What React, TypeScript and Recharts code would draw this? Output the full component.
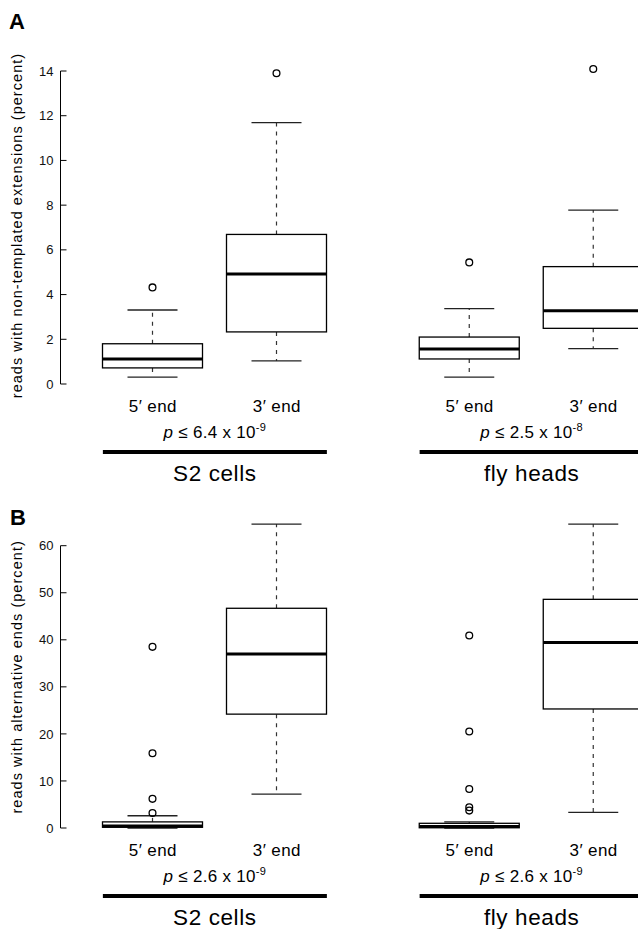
import React from 'react';
import { ComposedChart, Bar, XAxis, YAxis } from 'recharts';

const FONT = '"Liberation Sans", Arial, Helvetica, sans-serif';

// Categories
const groupNames = ['S2 cells', 'fly heads'];
const endLabels = ['5′ end', '3′ end'];

// Panel A — reads with non-templated extensions: [lower whisker, Q1, median, Q3, upper whisker]
const extS2Five = [0.31, 0.72, 1.12, 1.8, 3.31];
const extS2Three = [1.03, 2.33, 4.92, 6.69, 11.69];
const extFlyFive = [0.31, 1.12, 1.57, 2.1, 3.37];
const extFlyThree = [1.58, 2.49, 3.28, 5.25, 7.78];
const extOutS2Five = [4.32];
const extOutS2Three = [13.9];
const extOutFlyFive = [5.44];
const extOutFlyThree = [14.09];
const extPMantissa = ['6.4', '2.5'];
const extPExponent = ['-9', '-8'];
const extTicks = [0, 2, 4, 6, 8, 10, 12, 14];

// Panel B — reads with alternative ends
const altS2Five = [0.0, 0.15, 0.4, 1.3, 2.6];
const altS2Three = [7.2, 24.2, 37.0, 46.7, 64.6];
const altFlyFive = [0.0, 0.05, 0.3, 1.0, 1.3];
const altFlyThree = [3.3, 25.3, 39.4, 48.6, 64.6];
const altOutS2Five = [38.5, 15.9, 6.2, 3.2];
const altOutS2Three: number[] = [];
const altOutFlyFive = [40.9, 20.5, 8.3, 4.4, 3.7];
const altOutFlyThree: number[] = [];
const altPMantissa = ['2.6', '2.6'];
const altPExponent = ['-9', '-9'];
const altTicks = [0, 10, 20, 30, 40, 50, 60];

const extRows = groupNames.map((g, i) => ({
  group: g,
  five: [extS2Five, extFlyFive][i],
  three: [extS2Three, extFlyThree][i],
  fiveOut: [extOutS2Five, extOutFlyFive][i],
  threeOut: [extOutS2Three, extOutFlyThree][i],
  pm: extPMantissa[i],
  pe: extPExponent[i],
}));

const altRows = groupNames.map((g, i) => ({
  group: g,
  five: [altS2Five, altFlyFive][i],
  three: [altS2Three, altFlyThree][i],
  fiveOut: [altOutS2Five, altOutFlyFive][i],
  threeOut: [altOutS2Three, altOutFlyThree][i],
  pm: altPMantissa[i],
  pe: altPExponent[i],
}));

const BAR_SIZE = 100;
const BAR_GAP = 24;
const HALF_STEP = (BAR_SIZE + BAR_GAP) / 2;
const HALF_SPAN = BAR_SIZE + BAR_GAP / 2;

function BoxShape(props: any) {
  const { x, y, width, height, stats, outliers } = props;
  const [lo, q1, med, q3, hi] = stats as number[];
  const k = height / (q3 - q1);
  const py = (v: number) => y + (q3 - v) * k;
  const cx = x + width / 2;
  const cap = width / 4;
  return (
    <g>
      <line x1={cx} x2={cx} y1={py(q3)} y2={py(hi)} stroke="#333" strokeWidth={1.2} strokeDasharray="4 5" />
      <line x1={cx} x2={cx} y1={py(q1)} y2={py(lo)} stroke="#333" strokeWidth={1.2} strokeDasharray="4 5" />
      <line x1={cx - cap} x2={cx + cap} y1={py(hi)} y2={py(hi)} stroke="#222" strokeWidth={1.3} />
      <line x1={cx - cap} x2={cx + cap} y1={py(lo)} y2={py(lo)} stroke="#222" strokeWidth={1.3} />
      <rect x={x} y={py(q3)} width={width} height={py(q1) - py(q3)} fill="#fff" stroke="#000" strokeWidth={1.3} />
      <line x1={x} x2={x + width} y1={py(med)} y2={py(med)} stroke="#000" strokeWidth={3} />
      {(outliers as number[]).map((v, i) => (
        <circle key={i} cx={cx} cy={py(v)} r={3.4} fill="none" stroke="#000" strokeWidth={1.3} />
      ))}
    </g>
  );
}

function GroupTick(props: any) {
  const { x, y, payload, rows } = props;
  const row = rows.find((r: any) => r.group === payload.value);
  return (
    <g fontFamily={FONT} fill="#000">
      <text x={x - HALF_STEP} y={y + 27.5} textAnchor="middle" fontSize={17} letterSpacing={0.4}>
        {endLabels[0]}
      </text>
      <text x={x + HALF_STEP} y={y + 27.5} textAnchor="middle" fontSize={17} letterSpacing={0.4}>
        {endLabels[1]}
      </text>
      <text x={x} y={y + 54} textAnchor="middle" fontSize={17} letterSpacing={0.3}>
        <tspan fontStyle="italic">p</tspan>
        <tspan>{` ≤ ${row ? row.pm : ''} x 10`}</tspan>
        <tspan dy={-7} fontSize={11}>{row ? row.pe : ''}</tspan>
      </text>
      <line x1={x - HALF_SPAN} x2={x + HALF_SPAN} y1={y + 68} y2={y + 68} stroke="#000" strokeWidth={4} />
      <text x={x} y={y + 96.5} textAnchor="middle" fontSize={22.5} letterSpacing={0.6}>
        {payload.value}
      </text>
    </g>
  );
}

function yLabel(text: string, shift: number) {
  return (props: any) => {
    const vb = props.viewBox || {};
    const lx = vb.x + 22;
    const ly = vb.y + vb.height / 2 + shift;
    return (
      <text
        x={lx}
        y={ly}
        transform={`rotate(-90, ${lx}, ${ly})`}
        textAnchor="middle"
        fontFamily={FONT}
        fontSize={14.5}
        letterSpacing={1.05}
        fill="#000"
      >
        {text}
      </text>
    );
  };
}

function BoxPanel(props: {
  rows: any[];
  height: number;
  plotTop: number;
  xAxisHeight: number;
  domain: [number, number];
  ticks: number[];
  label: string;
  labelShift: number;
}) {
  const { rows, height, plotTop, xAxisHeight, domain, ticks, label, labelShift } = props;
  return (
    <ComposedChart
      width={690}
      height={height}
      data={rows}
      margin={{ top: plotTop, right: 0, bottom: 0, left: 0 }}
      barGap={BAR_GAP}
    >
      <XAxis
        dataKey="group"
        type="category"
        height={xAxisHeight}
        axisLine={false}
        tickLine={false}
        tickSize={0}
        tickMargin={0}
        interval={0}
        padding={{ left: -4, right: 0 }}
        tick={(p: any) => <GroupTick {...p} rows={rows} />}
      />
      <YAxis
        type="number"
        domain={domain}
        ticks={ticks}
        interval={0}
        width={60.5}
        tickSize={-6}
        tickMargin={13}
        axisLine={{ stroke: '#000', strokeWidth: 1 }}
        tickLine={{ stroke: '#000', strokeWidth: 1 }}
        tick={{ fill: '#111', fontSize: 13, fontFamily: FONT }}
        label={yLabel(label, labelShift)}
      />
      <Bar
        dataKey={(d: any) => [d.five[1], d.five[3]]}
        barSize={BAR_SIZE}
        isAnimationActive={false}
        shape={(p: any) => <BoxShape {...p} stats={p.payload.five} outliers={p.payload.fiveOut} />}
      />
      <Bar
        dataKey={(d: any) => [d.three[1], d.three[3]]}
        barSize={BAR_SIZE}
        isAnimationActive={false}
        shape={(p: any) => <BoxShape {...p} stats={p.payload.three} outliers={p.payload.threeOut} />}
      />
    </ComposedChart>
  );
}

export default function App() {
  return (
    <div
      style={{
        position: 'absolute',
        left: 0,
        top: 0,
        width: 638,
        height: 929,
        overflow: 'hidden',
        background: '#fff',
      }}
    >
      <div style={{ position: 'absolute', left: 0, top: 0 }}>
        <BoxPanel
          rows={extRows}
          height={490}
          plotTop={71}
          xAxisHeight={106}
          domain={[0, 14]}
          ticks={extTicks}
          label="reads with non-templated extensions (percent)"
          labelShift={-2}
        />
      </div>
      <div style={{ position: 'absolute', left: 0, top: 490 }}>
        <BoxPanel
          rows={altRows}
          height={439}
          plotTop={55.7}
          xAxisHeight={101}
          domain={[0, 60]}
          ticks={altTicks}
          label="reads with alternative ends (percent)"
          labelShift={-10}
        />
      </div>
      <svg width={638} height={929} style={{ position: 'absolute', left: 0, top: 0, pointerEvents: 'none' }}>
        <text x={9} y={29} fontFamily={FONT} fontWeight="bold" fontSize={22} fill="#000">
          A
        </text>
        <text x={10} y={525} fontFamily={FONT} fontWeight="bold" fontSize={22} fill="#000">
          B
        </text>
      </svg>
    </div>
  );
}
